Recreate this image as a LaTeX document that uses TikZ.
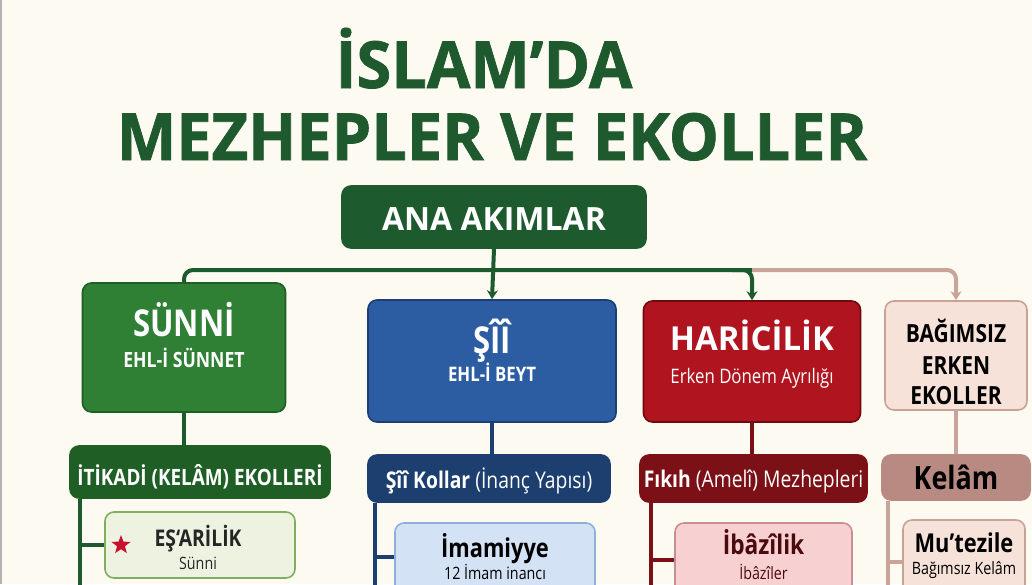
\documentclass[tikz,border=0pt]{standalone}
\usepackage{fontspec}
\setmainfont{Open Sans}
\newfontfamily\cond{Open Sans}[FakeStretch=0.84]
\newfontfamily\titlef{Open Sans}[FakeStretch=0.97,FakeBold=1.2]
\usetikzlibrary{arrows.meta,shapes.geometric}
\definecolor{bg}{HTML}{FDFBF1}
\definecolor{titlegreen}{HTML}{1E5A2E}
\definecolor{anagreen}{HTML}{1D5B2F}
\definecolor{sunnifill}{HTML}{2F7F34}
\definecolor{sunniedge}{HTML}{1F5E25}
\definecolor{itikfill}{HTML}{1F5F26}
\definecolor{esafill}{HTML}{EDF3E0}
\definecolor{esaedge}{HTML}{7FAF5E}
\definecolor{siifill}{HTML}{2C5DA3}
\definecolor{siiedge}{HTML}{1B3E73}
\definecolor{kolfill}{HTML}{1C3F6F}
\definecolor{imafill}{HTML}{D3E2F4}
\definecolor{imaedge}{HTML}{8EB0D8}
\definecolor{harfill}{HTML}{B0141E}
\definecolor{haredge}{HTML}{6E0A10}
\definecolor{fikfill}{HTML}{7B1016}
\definecolor{ibafill}{HTML}{F7D0D2}
\definecolor{ibaedge}{HTML}{C98E92}
\definecolor{ibatext}{HTML}{4A0A0E}
\definecolor{bagfill}{HTML}{F6E2D9}
\definecolor{bagedge}{HTML}{C7A296}
\definecolor{kelfill}{HTML}{B98A82}
\definecolor{pinkline}{HTML}{C9A49A}
\definecolor{starred}{HTML}{C8102E}
\tikzset{
  box/.style={draw, rounded corners=9pt, line width=1.6pt, inner sep=0pt},
  txt/.style={inner sep=0pt, anchor=base},
  conn/.style={line width=4pt},
  arr/.style={-{Stealth[length=9pt,width=11pt]}},
}
\begin{document}
\begin{tikzpicture}[x=1pt,y=1pt]
\useasboundingbox (0,0) rectangle (1032,-584);
\clip (0,0) rectangle (1032,-584);
\fill[bg] (0,0) rectangle (1032,-584);
\draw[black!30, line width=2pt] (1,0) -- (1,-584);

% Title
\node[txt, text=titlegreen, font=\fontsize{65}{65}\selectfont\titlef\bfseries] (t1) at (484,-88) {İSLAM’DA};
\node[txt, text=titlegreen, font=\fontsize{65}{65}\selectfont\titlef\bfseries] (t2) at (492,-160) {MEZHEPLER VE EKOLLER};

% Boxes
\node[box, fill=anagreen, draw=anagreen, minimum width=304pt, minimum height=62pt] (ana) at (494,-217) {};
\node[txt, text=white, font=\fontsize{32}{32}\selectfont\bfseries] (anaT) at (494,-230) {ANA AKIMLAR};

\node[box, fill=sunnifill, draw=sunniedge, minimum width=203pt, minimum height=129pt] (sunni) at (184,-347.5) {};
\node[txt, text=white, font=\fontsize{37}{37}\selectfont\cond\bfseries] (sunniT1) at (184,-336) {SÜNNİ};
\node[txt, text=white, font=\fontsize{21}{21}\selectfont\cond\bfseries] (sunniT2) at (184,-367) {EHL-İ SÜNNET};

\node[box, fill=siifill, draw=siiedge, minimum width=248pt, minimum height=122pt] (sii) at (492,-361) {};
\node[txt, text=white, font=\fontsize{37}{37}\selectfont\cond\bfseries] (siiT1) at (492,-353) {ŞÎÎ};
\node[txt, text=white, font=\fontsize{20}{20}\selectfont\cond\bfseries] (siiT2) at (492,-381) {EHL-İ BEYT};

\node[box, fill=harfill, draw=haredge, minimum width=217pt, minimum height=121pt] (har) at (752,-361.5) {};
\node[txt, text=white, font=\fontsize{33}{33}\selectfont\bfseries] (harT1) at (752,-350) {HARİCİLİK};
\node[txt, text=white, font=\fontsize{20}{20}\selectfont\cond] (harT2) at (752,-383) {Erken Dönem Ayrılığı};

\node[box, fill=bagfill, draw=bagedge, minimum width=142pt, minimum height=109pt] (bag) at (956,-355.5) {};
\node[txt, text=black, font=\fontsize{25}{25}\selectfont\cond\bfseries] (bagT1) at (956,-342) {BAĞIMSIZ};
\node[txt, text=black, font=\fontsize{25}{25}\selectfont\cond\bfseries] (bagT2) at (956,-374) {ERKEN};
\node[txt, text=black, font=\fontsize{25}{25}\selectfont\cond\bfseries] (bagT3) at (956,-404) {EKOLLER};

% Second level
\node[box, fill=itikfill, draw=itikfill, minimum width=260pt, minimum height=52pt] (itik) at (200,-472) {};
\node[txt, text=white, font=\fontsize{22.5}{22.5}\selectfont\cond\bfseries] (itikT) at (200,-485) {İTİKADİ (KELÂM) EKOLLERİ};

\node[box, fill=kolfill, draw=kolfill, minimum width=242pt, minimum height=47pt] (kol) at (489,-478.5) {};
\node[txt, text=white, font=\fontsize{23}{23}\selectfont\cond] (kolT) at (489,-488) {\textbf{Şîî Kollar} (İnanç Yapısı)};

\node[box, fill=fikfill, draw=fikfill, minimum width=227pt, minimum height=47pt] (fik) at (753.5,-478.5) {};
\node[txt, text=white, font=\fontsize{23}{23}\selectfont\cond] (fikT) at (753.5,-487) {\textbf{Fıkıh} (Amelî) Mezhepleri};

\node[box, fill=kelfill, draw=kelfill, minimum width=148pt, minimum height=45pt] (kel) at (956,-477.5) {};
\node[txt, text=black, font=\fontsize{32}{32}\selectfont\cond\bfseries] (kelT) at (956,-489) {Kelâm};

% Third level
\node[box, fill=esafill, draw=esaedge, minimum width=190pt, minimum height=66pt] (esa) at (200,-545) {};
\node[star, star points=5, star point ratio=2.4, fill=starred, inner sep=0pt, minimum size=20pt] (star) at (121,-545) {};
\node[txt, text=black!85, font=\fontsize{23}{23}\selectfont\cond\bfseries] (esaT1) at (198,-546) {EŞ‘ARİLİK};
\node[txt, text=black!85, font=\fontsize{17}{17}\selectfont\cond] (esaT2) at (198,-569) {Sünni};

\node[box, fill=imafill, draw=imaedge, minimum width=200pt, minimum height=80pt] (ima) at (495,-563) {};
\node[txt, text=black, font=\fontsize{26}{26}\selectfont\cond\bfseries] (imaT1) at (495,-557) {İmamiyye};
\node[txt, text=black, font=\fontsize{17}{17}\selectfont\cond] (imaT2) at (495,-579) {12 İmam inancı};

\node[box, fill=ibafill, draw=ibaedge, minimum width=177pt, minimum height=80pt] (iba) at (763.5,-563) {};
\node[txt, text=ibatext, font=\fontsize{27}{27}\selectfont\cond\bfseries] (ibaT1) at (763.5,-554) {İbâzîlik};
\node[txt, text=ibatext, font=\fontsize{17}{17}\selectfont\cond] (ibaT2) at (763.5,-579) {İbâzîler};

\node[box, fill=bagfill, draw=bagedge, minimum width=122pt, minimum height=80pt] (mut) at (964,-560) {};
\node[txt, text=black, font=\fontsize{26}{26}\selectfont\cond\bfseries] (mutT1) at (964,-552) {Mu’tezile};
\node[txt, text=black, font=\fontsize{17}{17}\selectfont\cond] (mutT2) at (964,-574) {Bağımsız Kelâm};

% Top connectors
\coordinate (bar) at (0,-270);
\coordinate (jh) at (har.north |- bar);
\draw[conn, draw=anagreen, arr] (ana.south) -- (sii.north);
\draw[conn, draw=anagreen, rounded corners=9pt] (sunni.north) |- (jh);
\draw[conn, draw=pinkline, arr, rounded corners=9pt] (jh) -| (bag.north);
\draw[conn, draw=anagreen, arr, rounded corners=9pt] ([xshift=-20pt]jh) -- (jh) -- (har.north);

% Stems to second level
\draw[conn, draw=anagreen] (sunni.south) -- (sunni.south |- itik.north);
\draw[conn, draw=kolfill] (sii.south) -- (sii.south |- kol.north);
\draw[conn, draw=fikfill] (har.south) -- (har.south |- fik.north);
\draw[conn, draw=pinkline] (bag.south) -- (bag.south |- kel.north);

% Rails and branches
\draw[conn, draw=anagreen] ([xshift=11pt]itik.south west) -- ++(0,-120);
\draw[conn, draw=anagreen] ([xshift=11pt]itik.south west |- esa.west) -- (esa.west);
\draw[conn, draw=kolfill] ([xshift=8pt]kol.south west) -- ++(0,-120);
\draw[conn, draw=kolfill] ([xshift=8pt]kol.south west |- 0,-557) -- (ima.west |- 0,-557);
\draw[conn, draw=fikfill] ([xshift=12pt]fik.south west) -- ++(0,-120);
\draw[conn, draw=fikfill] ([xshift=12pt]fik.south west |- 0,-560) -- (iba.west |- 0,-560);
\draw[conn, draw=pinkline] ([xshift=7pt]kel.south west) -- ++(0,-120);
\draw[conn, draw=pinkline] ([xshift=7pt]kel.south west |- 0,-562) -- (mut.west |- 0,-562);
\end{tikzpicture}
\end{document}
